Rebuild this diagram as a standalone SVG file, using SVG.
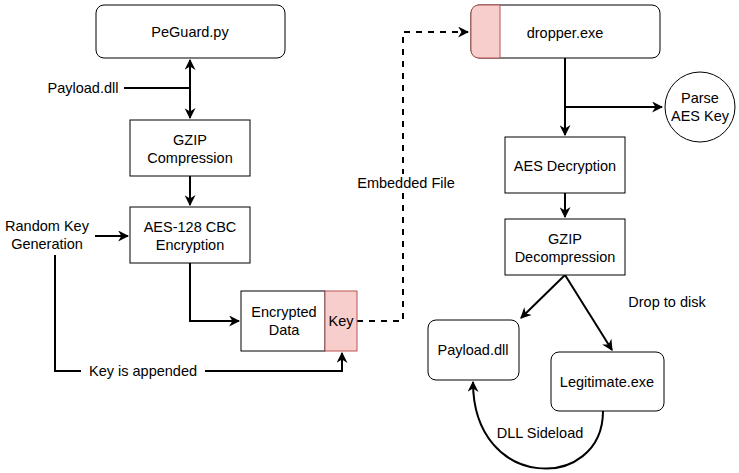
<svg xmlns="http://www.w3.org/2000/svg" width="739" height="473" viewBox="0 0 739 473">
<style>
text{font-family:"Liberation Sans",Arial,sans-serif;font-size:14.5px;fill:#000;text-anchor:middle;dominant-baseline:central}
.box{fill:#fff;stroke:#000;stroke-width:1}
.red{fill:#f8cecc;stroke:#b85450;stroke-width:1}
.c{fill:none;stroke:#000;stroke-width:2}
.d{stroke-dasharray:6 6}
.lbl{fill:#fff}
</style>
<defs>
<marker id="a" viewBox="0 0 10 10" refX="9" refY="5" markerWidth="5.5" markerHeight="5.5" orient="auto-start-reverse" markerUnits="strokeWidth">
<path d="M0,0 L10,5 L0,10 L3,5 Z" fill="#000"/>
</marker>
</defs>
<rect width="739" height="473" fill="#fff"/>
<g id="connectors">
<line class="c" x1="190" y1="60" x2="190" y2="118" marker-start="url(#a)" marker-end="url(#a)"/>
<line class="c" x1="124" y1="88" x2="190" y2="88"/>
<line class="c" x1="190" y1="176" x2="190" y2="205" marker-end="url(#a)"/>
<line class="c" x1="95" y1="236" x2="128" y2="236" marker-end="url(#a)"/>
<polyline class="c" points="190,263 190,321 239,321" marker-end="url(#a)"/>
<polyline class="c" points="55,255 55,371 342,371 342,353" marker-end="url(#a)"/>
<rect class="lbl" x="81" y="362" width="124" height="18"/>
<text x="143" y="371">Key is appended</text>
<polyline class="c d" points="357,321 403,321 403,32 468,32" marker-end="url(#a)"/>
<rect class="lbl" x="352" y="174" width="108" height="18"/>
<text x="406" y="183">Embedded File</text>
<line class="c" x1="565" y1="58" x2="565" y2="135" marker-end="url(#a)"/>
<line class="c" x1="565" y1="107" x2="662" y2="107" marker-end="url(#a)"/>
<line class="c" x1="565" y1="193" x2="565" y2="217" marker-end="url(#a)"/>
<line class="c" x1="565" y1="275" x2="521" y2="318" marker-end="url(#a)"/>
<line class="c" x1="565" y1="275" x2="612" y2="350" marker-end="url(#a)"/>
<path class="c" d="M603,411 C603,492 473,492 473,382" marker-end="url(#a)"/>
<text x="540" y="433">DLL Sideload</text>
<text x="667" y="302">Drop to disk</text>
</g>
<g id="peguard"><rect class="box" x="96" y="5" width="189" height="53" rx="8"/><text x="190" y="32">PeGuard.py</text></g>
<g id="payload-in"><text x="83" y="88">Payload.dll</text></g>
<g id="gzip"><rect class="box" x="130" y="120" width="120" height="56"/><text x="190" y="140">GZIP</text><text x="190" y="158">Compression</text></g>
<g id="randkey"><text x="47" y="226">Random Key</text><text x="47" y="244">Generation</text></g>
<g id="aes"><rect class="box" x="130" y="207" width="120" height="56"/><text x="190" y="227">AES-128 CBC</text><text x="190" y="245">Encryption</text></g>
<g id="encdata"><rect class="box" x="241" y="291" width="84" height="60"/><text x="284" y="312">Encrypted</text><text x="284" y="330">Data</text></g>
<g id="key"><rect class="red" x="325" y="291" width="32" height="60"/><text x="341" y="321">Key</text></g>
<g id="dropper"><rect class="box" x="471" y="5" width="189" height="53" rx="8"/><path class="red" d="M500,5 H479 A8,8 0 0 0 471,13 V50 A8,8 0 0 0 479,58 H500 Z"/><text x="565" y="33">dropper.exe</text></g>
<g id="parsekey"><circle class="box" cx="700" cy="107" r="35"/><text x="700" y="98">Parse</text><text x="700" y="116">AES Key</text></g>
<g id="aesdec"><rect class="box" x="505" y="137" width="120" height="56"/><text x="565" y="166">AES Decryption</text></g>
<g id="gzipdec"><rect class="box" x="505" y="219" width="120" height="56"/><text x="565" y="239">GZIP</text><text x="565" y="257">Decompression</text></g>
<g id="payload"><rect class="box" x="428" y="320" width="91" height="60" rx="8"/><text x="473" y="350">Payload.dll</text></g>
<g id="legit"><rect class="box" x="551" y="352" width="113" height="59" rx="8"/><text x="607" y="382">Legitimate.exe</text></g>
</svg>
